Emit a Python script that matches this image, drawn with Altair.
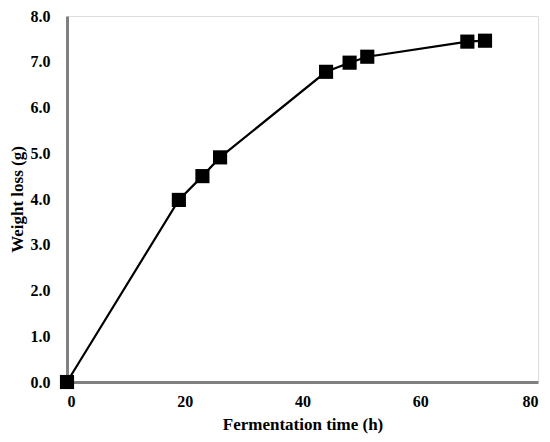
import altair as alt
import pandas as pd

time_h = [0, 19, 23, 26, 44, 48, 51, 68, 71]
weight_loss = [0.0, 3.98, 4.50, 4.91, 6.78, 6.98, 7.11, 7.44, 7.46]

df = pd.DataFrame({"t": time_h, "w": weight_loss})

FONT = "Liberation Serif"

x = alt.X("t:Q", title="Fermentation time (h)",
          scale=alt.Scale(domain=[0, 80], nice=False),
          axis=alt.Axis(values=[0, 20, 40, 60, 80], grid=False, ticks=False,
                        domainColor="#808080", domainWidth=3,
                        labelFont=FONT, labelFontSize=16, labelFontWeight="bold",
                        labelColor="black", labelPadding=11,
                        titleFont=FONT, titleFontSize=17, titleFontWeight="bold",
                        titleColor="black", titlePadding=7))
y = alt.Y("w:Q", title="Weight loss (g)",
          scale=alt.Scale(domain=[0, 8], nice=False),
          axis=alt.Axis(values=[0, 1, 2, 3, 4, 5, 6, 7, 8], format=".1f",
                        grid=False, ticks=False,
                        domainColor="#808080", domainWidth=3,
                        labelFont=FONT, labelFontSize=16, labelFontWeight="bold",
                        labelColor="black", labelPadding=17,
                        titleFont=FONT, titleFontSize=17, titleFontWeight="bold",
                        titleColor="black", titlePadding=4))

line = alt.Chart(df).mark_line(color="black", strokeWidth=2.2).encode(x=x, y=y)
pts = alt.Chart(df).mark_square(color="black", opacity=1, size=200).encode(x=x, y=y)

chart = (line + pts).properties(
    width=471, height=366,
    autosize=alt.AutoSizeParams(type="none"),
    padding={"left": 59, "top": 8, "right": 4, "bottom": 58},
).configure_view(stroke="black", strokeWidth=2).configure(background="white")

chart.save("out.html", embed_options={"renderer": "svg", "actions": False})
